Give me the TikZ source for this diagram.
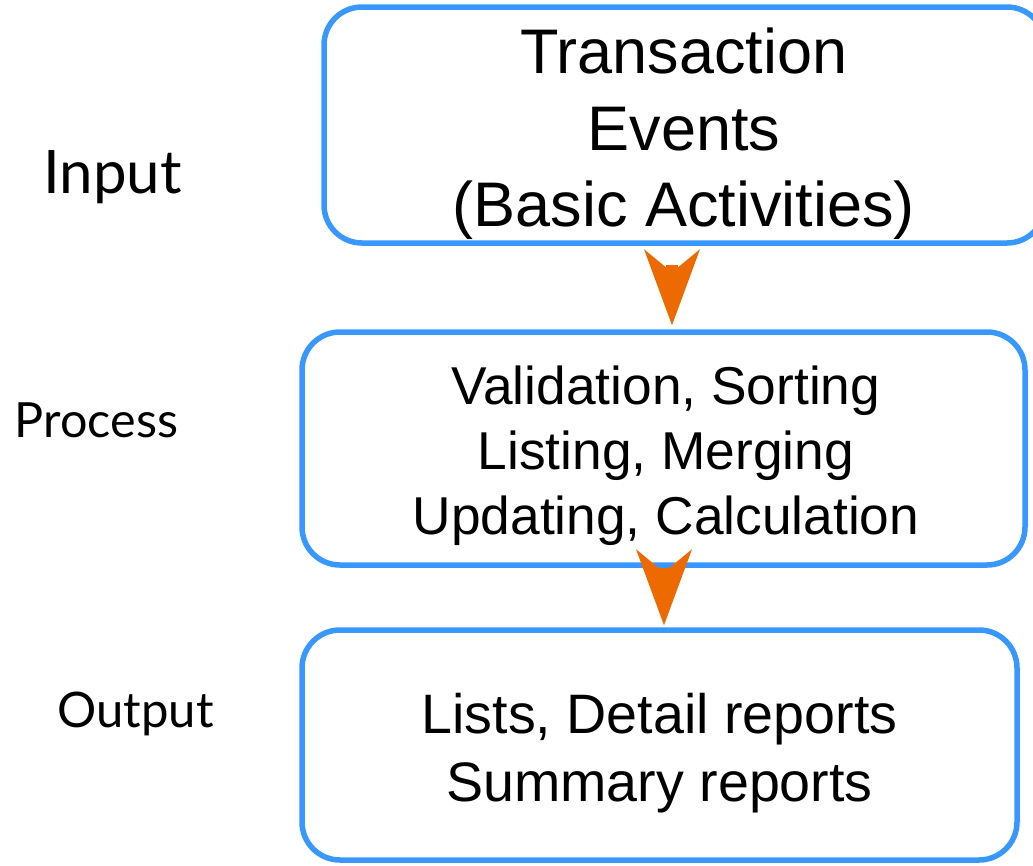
\documentclass[tikz,border=0pt]{standalone}
\usepackage{fontspec}
\setmainfont{Liberation Sans}
\newfontfamily\stagefont{Lato}
\usetikzlibrary{arrows.meta}

\definecolor{boxblue}{RGB}{56,152,255}
\definecolor{flowor}{RGB}{237,106,0}

\tikzset{
  stagebox/.style={draw=boxblue, line width=5.5pt, rounded corners=38pt,
    rectangle, inner sep=0pt, fill=none},
  boxtext/.style={align=center, inner sep=0pt, text=black},
  stagelabel/.style={anchor=base, inner sep=0pt, text=black},
  flow/.style={draw=flowor, line width=12pt,
    -{Stealth[length=76pt, width=56pt, inset=23pt, line width=0pt, fill=flowor]}},
}

\begin{document}
\begin{tikzpicture}[x=1pt, y=-1pt]
  \useasboundingbox (0,0) rectangle (1033,865);
  \clip (0,0) rectangle (1033,865);

  % frames of the three stages
  \node[stagebox, minimum width=721pt, minimum height=236pt] (b1) at (684.5,125) {};
  \node[stagebox, minimum width=723pt, minimum height=233pt] (b2) at (663.5,448.5) {};
  \node[stagebox, minimum width=715pt, minimum height=230pt] (b3) at (659.5,745) {};

  % texts inside the frames
  \node[boxtext, font=\fontsize{63}{76.5}\selectfont] (t1) at (684,133.8)
    {Transaction\\Events\\(Basic Activities)};
  \node[boxtext, font=\fontsize{53.3}{65}\selectfont] (t2) at (666,455.5)
    {Validation, Sorting\\Listing, Merging\\Updating, Calculation};
  \node[boxtext, font=\fontsize{55.6}{68}\selectfont] (t3) at (659.5,753)
    {Lists, Detail reports\\Summary reports};

  % stage names on the left
  \node[stagelabel, font=\stagefont\fontsize{60}{60}\selectfont] (lin) at (112.5,193) {Input};
  \node[stagelabel, font=\stagefont\fontsize{48.5}{48.5}\selectfont] (lproc) at (96.5,437) {Process};
  \node[stagelabel, font=\stagefont\fontsize{49}{49}\selectfont] (lout) at (135.5,727) {Output};

  % flow between the stages
  \draw[flow] ([xshift=-12.5pt, yshift=-19pt]b1.south) -- ([xshift=8.5pt, yshift=4pt]b2.north);
  \draw[flow] ([xshift=0.5pt]b2.south) -- ([xshift=4.5pt, yshift=2pt]b3.north);
\end{tikzpicture}
\end{document}
